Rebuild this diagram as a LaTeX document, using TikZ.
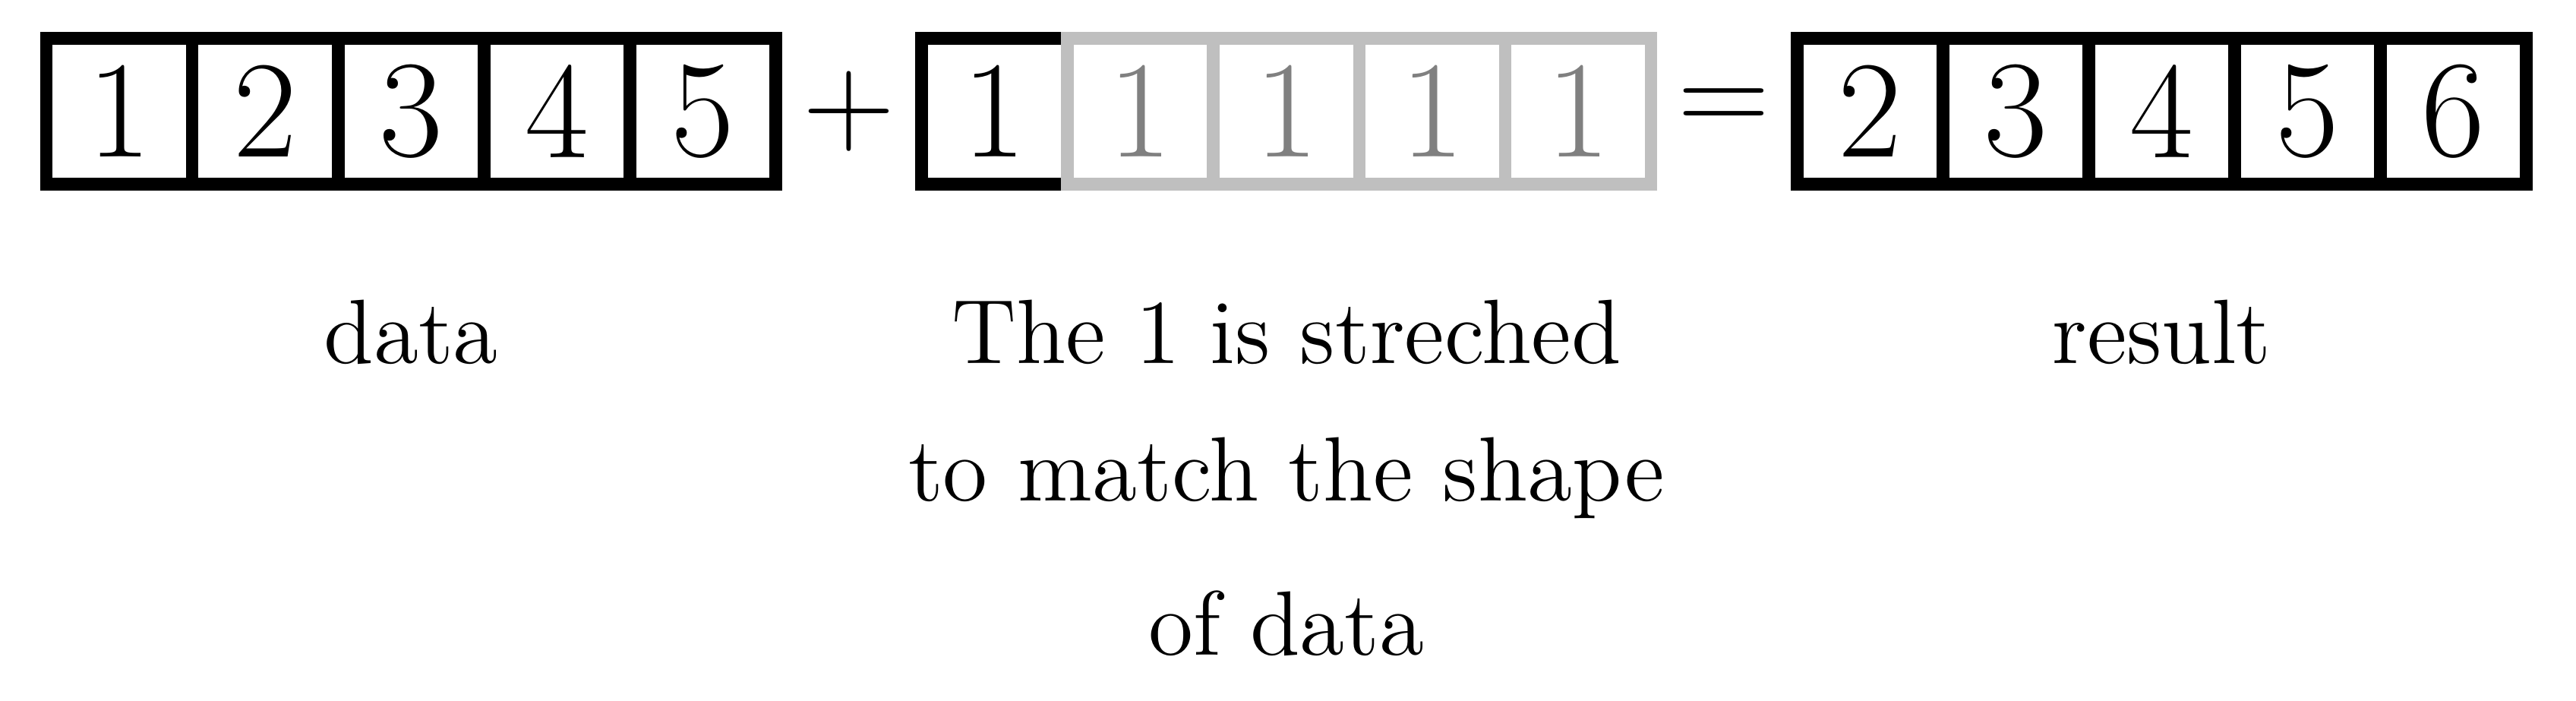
\documentclass[tikz,border=0pt]{standalone}
\usepackage{graphicx}
\newcommand\digitfont{\fontsize{27}{27}\selectfont}
\newcommand\opfont{\fontsize{27}{27}\selectfont}
\newcommand\capt[1]{\scalebox{1.485}{\fontsize{12}{12}\selectfont #1}}
\tikzset{
  cell/.style={draw=black, line width=2.47pt, minimum size=1cm, inner sep=0pt, font=\digitfont, text=black},
  ghost/.style={cell, draw=black!25, text=black!50},
  op/.style={font=\opfont, inner sep=0pt},
  caption/.style={anchor=base, inner sep=0pt},
}
\begin{document}
\begin{tikzpicture}
\useasboundingbox (-0.3175,-3.5377) rectangle (17.3399,1.2618);
% data
\node[cell] (d1) at (0.5,0.5) {1};
\node[cell] (d2) at (1.5,0.5) {2};
\node[cell] (d3) at (2.5,0.5) {3};
\node[cell] (d4) at (3.5,0.5) {4};
\node[cell] (d5) at (4.5,0.5) {5};
\node[op] (plus) at (5.5,0.5) {$+$};
% broadcast
\node[cell] (b1) at (6.5,0.5) {1};
\node[ghost] (b2) at (7.5,0.5) {1};
\node[ghost] (b3) at (8.5,0.5) {1};
\node[ghost] (b4) at (9.5,0.5) {1};
\node[ghost] (b5) at (10.5,0.5) {1};
\node[op] (eq) at (11.5,0.5) {$=$};
% result
\node[cell] (r1) at (12.5,0.5) {2};
\node[cell] (r2) at (13.5,0.5) {3};
\node[cell] (r3) at (14.5,0.5) {4};
\node[cell] (r4) at (15.5,0.5) {5};
\node[cell] (r5) at (16.5,0.5) {6};
% captions
\node[caption] (capd) at (2.5,-1.228) {\capt{data}};
\node[caption] (capr) at (14.5,-1.228) {\capt{result}};
\node[caption] (capb1) at (8.5,-1.228) {\capt{The 1 is streched}};
\node[caption] (capb2) at (8.5,-2.169) {\capt{to match the shape}};
\node[caption] (capb3) at (8.5,-3.226) {\capt{of data}};
\end{tikzpicture}
\end{document}
